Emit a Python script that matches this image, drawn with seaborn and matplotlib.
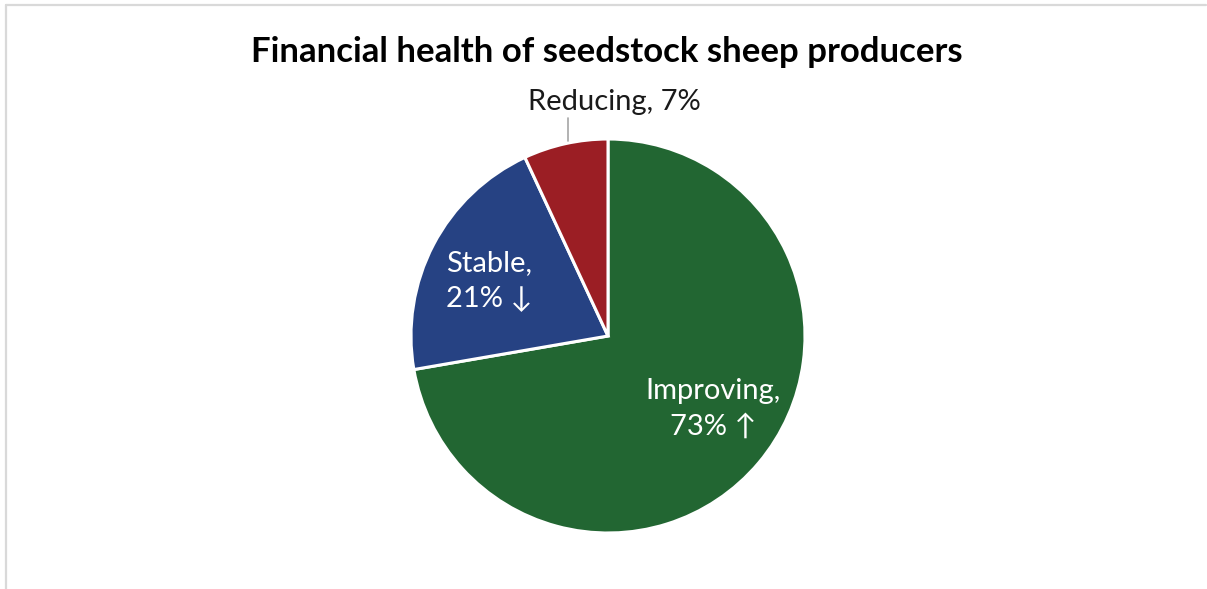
import matplotlib
matplotlib.use("Agg")
import matplotlib.pyplot as plt
from matplotlib.lines import Line2D
import seaborn as sns

# Survey shares of seedstock sheep producers by financial outlook
categories = ["Improving", "Stable", "Reducing"]
shares = [73, 21, 7]
trend_marks = ["\u2191", "\u2193", ""]
slice_colors = ["#226632", "#264283", "#9b1e24"]

sns.set_theme(style="white")
plt.rcParams["font.family"] = ["Lato", "DejaVu Sans"]

W, H = 1207, 589
fig = plt.figure(figsize=(W / 100, H / 100), dpi=100)
fig.patch.set_facecolor("white")

# chart-area frame (top and left edges visible)
frame_kw = dict(color="#d9d9d9", linewidth=1.6, transform=fig.transFigure)
fig.add_artist(Line2D([6 / W, 1206 / W], [1 - 5 / H, 1 - 5 / H], **frame_kw))
fig.add_artist(Line2D([6 / W, 6 / W], [0, 1 - 5 / H], **frame_kw))

cx, cy, r = 608, 336, 197
ax = fig.add_axes([(cx - r) / W, (H - cy - r) / H, 2 * r / W, 2 * r / H])
palette = sns.color_palette(slice_colors)
ax.pie(shares, colors=palette, startangle=90, counterclock=False, radius=1,
       wedgeprops=dict(edgecolor="white", linewidth=2.2))
ax.set_xlim(-1, 1)
ax.set_ylim(-1, 1)
ax.set_aspect("equal")
ax.axis("off")

label_size = 21
# Improving label inside the slice
ax.text(0.535, -0.37, f"{categories[0]},\n{shares[0]}% {trend_marks[0]}",
        ha="center", va="center", color="white", fontsize=label_size,
        linespacing=1.42)
# Stable label inside the slice
ax.text(-0.605, 0.28, f"{categories[1]},\n{shares[1]}% {trend_marks[1]}",
        ha="center", va="center", color="white", fontsize=label_size,
        linespacing=1.42)
# Reducing label outside with a leader line
ax.plot([-0.203, -0.203], [0.99, 1.105], color="#a6a6a6", linewidth=1.2,
        clip_on=False)
ax.text(0.03, 1.19, f"{categories[2]}, {shares[2]}%", ha="center", va="center",
        color="#1a1a1a", fontsize=label_size, clip_on=False)

fig.text(607 / W, 1 - 52 / H, "Financial health of seedstock sheep producers",
         ha="center", va="center", fontsize=25, fontweight="bold",
         color="black")

fig.savefig("out.png", dpi=100)
